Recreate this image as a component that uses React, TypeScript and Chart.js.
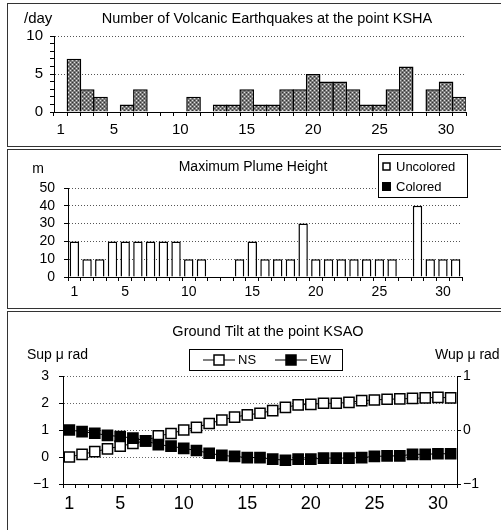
import React, { useEffect, useRef } from 'react';
import { Chart, registerables } from 'chart.js';

Chart.register(...registerables);

const DAYS = ['1','2','3','4','5','6','7','8','9','10','11','12','13','14','15','16','17','18','19','20','21','22','23','24','25','26','27','28','29','30','31'];
const SHOWN_DAY_LABELS = ['1','5','10','15','20','25','30'];

const QUAKES = [0,7,3,2,0,1,3,0,0,0,2,0,1,1,3,1,1,3,3,5,4,4,3,1,1,3,6,0,3,4,2];

const PLUME_UNCOLORED = [20,10,10,20,20,20,20,20,20,10,10,null,null,10,20,10,10,10,30,10,10,10,10,10,10,10,null,40,10,10,10];
const PLUME_COLORED = [null,null,null,null,null,null,null,null,null,null,null,null,null,null,null,null,null,null,null,null,null,null,null,null,null,null,null,null,null,null,null];

const TILT_NS = [0.0,0.1,0.2,0.3,0.4,0.5,0.6,0.78,0.87,1.0,1.1,1.24,1.37,1.48,1.56,1.62,1.72,1.84,1.93,1.95,1.99,1.99,2.02,2.09,2.11,2.14,2.15,2.17,2.19,2.21,2.19];
const TILT_EW = [0.0,-0.03,-0.06,-0.1,-0.12,-0.15,-0.2,-0.27,-0.3,-0.34,-0.38,-0.43,-0.47,-0.49,-0.51,-0.51,-0.54,-0.56,-0.54,-0.54,-0.52,-0.52,-0.52,-0.51,-0.49,-0.48,-0.48,-0.45,-0.45,-0.44,-0.44];

const FONT = '"Liberation Sans", Arial, sans-serif';
const W = 501;

function dayTick(this: any, value: any, index: number) {
  const l = DAYS[index];
  return SHOWN_DAY_LABELS.includes(l) ? l : '';
}

function xAxis(height: number, fontSize: number, pad: number) {
  return {
    type: 'category',
    offset: true,
    grid: { offset: true, drawOnChartArea: false, drawTicks: true, tickLength: 4, tickColor: '#000', tickWidth: 1 },
    border: { display: true, color: '#000', width: 1 },
    ticks: { autoSkip: false, maxRotation: 0, minRotation: 0, padding: pad, color: '#000', font: { family: FONT, size: fontSize }, callback: dayTick },
    afterFit(s: any) { s.height = height; },
  };
}

function textPlugin(draw: (ctx: CanvasRenderingContext2D) => void) {
  return {
    id: 'extraText' + Math.random().toString(36).slice(2),
    afterDraw(chart: any) {
      const ctx = chart.ctx as CanvasRenderingContext2D;
      ctx.save();
      draw(ctx);
      ctx.restore();
    },
  };
}

function makePattern(): CanvasPattern | string {
  const pc = document.createElement('canvas');
  pc.width = 4; pc.height = 4;
  const p = pc.getContext('2d');
  if (!p) return '#888';
  p.fillStyle = '#7a7a7a';
  p.fillRect(0, 0, 4, 4);
  p.fillStyle = '#e0e0e0';
  p.fillRect(0, 0, 1, 1);
  p.fillRect(2, 2, 1, 1);
  p.fillStyle = '#333';
  p.fillRect(2, 0, 1, 1);
  p.fillRect(0, 2, 1, 1);
  return p.createPattern(pc, 'repeat') || '#888';
}

export default function App() {
  const c1 = useRef<HTMLCanvasElement>(null);
  const c2 = useRef<HTMLCanvasElement>(null);
  const c3 = useRef<HTMLCanvasElement>(null);

  useEffect(() => {
    const charts: Chart[] = [];

    // Panel 1: earthquakes
    charts.push(new Chart(c1.current as HTMLCanvasElement, {
      type: 'bar',
      data: {
        labels: DAYS,
        datasets: [{
          label: 'Earthquakes',
          data: QUAKES,
          backgroundColor: makePattern() as any,
          borderColor: '#000',
          borderWidth: 1.5,
          barPercentage: 1.1,
          categoryPercentage: 1,
        }],
      },
      options: {
        responsive: false,
        animation: false,
        layout: { padding: { left: 0, right: W - 466, top: 32, bottom: 0 } },
        plugins: { legend: { display: false }, tooltip: { enabled: false }, title: { display: false } },
        scales: {
          x: xAxis(33, 15, 5) as any,
          y: {
            min: 0, max: 10,
            ticks: { stepSize: 1, autoSkip: false, padding: 7, color: '#000', font: { family: FONT, size: 15 },
              callback: (v: any) => (v % 5 === 0 ? String(v) : '') },
            grid: {
              color: (ctx: any) => (ctx.tick && ctx.tick.value % 5 === 0 && ctx.tick.value !== 0 ? '#555' : 'rgba(0,0,0,0)'),
              tickColor: '#000', tickLength: 4, drawTicks: true,
            },
            border: { display: true, color: '#000', width: 1, dash: [1, 2] },
            afterFit(s: any) { s.width = 54; },
          } as any,
        },
      },
      plugins: [textPlugin((ctx) => {
        ctx.fillStyle = '#000';
        ctx.font = `14.5px ${FONT}`;
        ctx.textBaseline = 'middle';
        ctx.textAlign = 'center';
        ctx.fillText('Number of Volcanic Earthquakes at the point KSHA', 267, 15);
        ctx.textAlign = 'left';
        ctx.font = `15px ${FONT}`;
        ctx.fillText('/day', 24, 15);
      })],
    }));

    // Panel 2: plume height
    charts.push(new Chart(c2.current as HTMLCanvasElement, {
      type: 'bar',
      data: {
        labels: DAYS,
        datasets: [
          { label: 'Uncolored', data: PLUME_UNCOLORED as any, backgroundColor: '#fff', borderColor: '#000', borderWidth: 1.5, barPercentage: 0.74, categoryPercentage: 1 },
          { label: 'Colored', data: PLUME_COLORED as any, backgroundColor: '#000', borderColor: '#000', borderWidth: 1.5, barPercentage: 0.74, categoryPercentage: 1 },
        ],
      },
      options: {
        responsive: false,
        animation: false,
        layout: { padding: { left: 0, right: W - 462, top: 38, bottom: 0 } },
        plugins: { legend: { display: false }, tooltip: { enabled: false } },
        scales: {
          x: { ...(xAxis(31, 14, 3) as any), stacked: true },
          y: {
            stacked: true,
            min: 0, max: 50,
            ticks: { stepSize: 10, autoSkip: false, padding: 9, color: '#000', font: { family: FONT, size: 14 } },
            grid: {
              color: (ctx: any) => (ctx.tick && ctx.tick.value !== 0 ? '#555' : 'rgba(0,0,0,0)'),
              tickColor: '#000', tickLength: 4,
            },
            border: { display: true, color: '#000', width: 1, dash: [1, 2] },
            afterFit(s: any) { s.width = 68; },
          } as any,
        },
      },
      plugins: [textPlugin((ctx) => {
        ctx.fillStyle = '#000';
        ctx.font = `14px ${FONT}`;
        ctx.textBaseline = 'middle';
        ctx.textAlign = 'center';
        ctx.fillText('Maximum Plume Height', 253, 17);
        ctx.fillText('m', 38, 19);
        // legend
        ctx.font = `13px ${FONT}`;
        ctx.fillStyle = '#fff';
        ctx.fillRect(378.5, 4.5, 89, 43);
        ctx.strokeStyle = '#000';
        ctx.lineWidth = 1;
        ctx.strokeRect(378.5, 4.5, 89, 43);
        ctx.lineWidth = 1.5;
        ctx.strokeRect(383, 13, 7, 7);
        ctx.fillStyle = '#000';
        ctx.fillRect(382, 32, 9, 9);
        ctx.textAlign = 'left';
        ctx.fillText('Uncolored', 396, 17);
        ctx.fillText('Colored', 396, 37);
      })],
    }));

    // Panel 3: ground tilt
    charts.push(new Chart(c3.current as HTMLCanvasElement, {
      type: 'line',
      data: {
        labels: DAYS,
        datasets: [
          { label: 'NS', data: TILT_NS, yAxisID: 'y', order: 1, borderColor: '#000', borderWidth: 1, pointStyle: 'rect', pointRadius: 7.2, pointBackgroundColor: '#fff', pointBorderColor: '#000', pointBorderWidth: 1.5, tension: 0 },
          { label: 'EW', data: TILT_EW, yAxisID: 'y1', order: 0, borderColor: '#000', borderWidth: 1, pointStyle: 'rect', pointRadius: 7.2, pointBackgroundColor: '#000', pointBorderColor: '#000', pointBorderWidth: 1.5, tension: 0 },
        ],
      },
      options: {
        responsive: false,
        animation: false,
        layout: { padding: { left: 0, right: 0, top: 64, bottom: 0 } },
        plugins: { legend: { display: false }, tooltip: { enabled: false } },
        scales: {
          x: xAxis(46, 18, 5) as any,
          y: {
            position: 'left',
            min: -1, max: 3,
            ticks: { stepSize: 1, autoSkip: false, padding: 10, color: '#000', font: { family: FONT, size: 14 },
              callback: (v: any) => (v < 0 ? '\u2212' + Math.abs(v) : String(v)) },
            grid: {
              color: (ctx: any) => (ctx.tick && ctx.tick.value !== -1 ? '#666' : 'rgba(0,0,0,0)'),
              tickColor: '#000', tickLength: 4,
            },
            border: { display: true, color: '#000', width: 1, dash: [1, 2] },
            afterFit(s: any) { s.width = 63; },
          } as any,
          y1: {
            position: 'right',
            min: -1, max: 1,
            ticks: { stepSize: 1, autoSkip: false, padding: 2, color: '#000', font: { family: FONT, size: 14 },
              callback: (v: any) => (v < 0 ? '\u2212' + Math.abs(v) : String(v)) },
            grid: { drawOnChartArea: false, tickColor: '#000', tickLength: 4 },
            border: { display: true, color: '#000', width: 1 },
            afterFit(s: any) { s.width = W - 457; },
          } as any,
        },
      },
      plugins: [textPlugin((ctx) => {
        ctx.fillStyle = '#000';
        ctx.font = `14.5px ${FONT}`;
        ctx.textBaseline = 'middle';
        ctx.textAlign = 'center';
        ctx.fillText('Ground Tilt at the point KSAO', 268, 20);
        ctx.textAlign = 'left';
        ctx.font = `14px ${FONT}`;
        ctx.fillText('Sup \u03bc rad', 27, 43);
        ctx.fillText('Wup \u03bc rad', 435, 43);
        // legend
        ctx.fillStyle = '#fff';
        ctx.fillRect(189.5, 37.5, 153, 21);
        ctx.strokeStyle = '#000';
        ctx.lineWidth = 1;
        ctx.strokeRect(189.5, 37.5, 153, 21);
        const ly = 48;
        ctx.beginPath();
        ctx.moveTo(203, ly); ctx.lineTo(235, ly);
        ctx.moveTo(275, ly); ctx.lineTo(307, ly);
        ctx.stroke();
        ctx.lineWidth = 1.5;
        ctx.fillStyle = '#fff';
        ctx.fillRect(214, ly - 5, 10, 10);
        ctx.strokeRect(214, ly - 5, 10, 10);
        ctx.fillStyle = '#000';
        ctx.fillRect(286, ly - 5, 10, 10);
        ctx.strokeRect(286, ly - 5, 10, 10);
        ctx.font = `13px ${FONT}`;
        ctx.fillText('NS', 238, ly);
        ctx.fillText('EW', 310, ly);
      })],
    }));

    return () => { charts.forEach((c) => c.destroy()); };
  }, []);

  const panel = (top: number, height: number): React.CSSProperties => ({
    position: 'absolute', left: 7, top, width: 520, height, border: '1px solid #333', boxSizing: 'border-box',
  });
  const canvasStyle = (top: number, height: number): React.CSSProperties => ({
    position: 'absolute', left: 0, top, width: W, height,
  });

  return (
    <div style={{ position: 'fixed', left: 0, top: 0, width: W, height: 530, overflow: 'hidden', background: '#fff' }}>
      <div style={panel(3, 144)} />
      <div style={panel(149, 160)} />
      <div style={panel(311, 240)} />
      <canvas ref={c1} width={W} height={141} style={canvasStyle(4, 141)} />
      <canvas ref={c2} width={W} height={158} style={canvasStyle(150, 158)} />
      <canvas ref={c3} width={W} height={218} style={canvasStyle(312, 218)} />
    </div>
  );
}
